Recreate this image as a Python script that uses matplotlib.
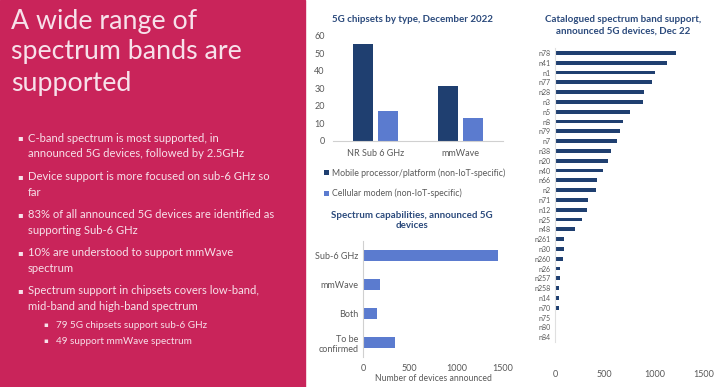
import matplotlib.pyplot as plt
from matplotlib.patches import Rectangle

W, H = 720, 387

# chipsets by type
chip_cats = ["NR Sub 6 GHz", "mmWave"]
chip_mobile = [55, 31]
chip_modem = [17, 13]
chip_labels = ["Mobile processor/platform (non-IoT-specific)", "Cellular modem (non-IoT-specific)"]

# spectrum capabilities
cap_cats = ["Sub-6 GHz", "mmWave", "Both", "To be\nconfirmed"]
cap_vals = [1450, 185, 150, 340]

# band support
bands = ["n78", "n41", "n1", "n77", "n28", "n3", "n5", "n8", "n79", "n7",
         "n38", "n20", "n40", "n66", "n2", "n71", "n12", "n25", "n48", "n261",
         "n30", "n260", "n26", "n257", "n258", "n14", "n70", "n75", "n80", "n84"]
band_vals = [1220, 1130, 1010, 975, 900, 885, 755, 680, 655, 625,
             560, 530, 480, 420, 415, 335, 320, 275, 205, 90,
             90, 85, 55, 50, 45, 45, 37, 15, 8, 8]

title_lines = ["A wide range of", "spectrum bands are", "supported"]
bullets = [
    ["C-band spectrum is most supported, in", "announced 5G devices, followed by 2.5GHz"],
    ["Device support is more focused on sub-6 GHz so", "far"],
    ["83% of all announced 5G devices are identified as", "supporting Sub-6 GHz"],
    ["10% are understood to support mmWave", "spectrum"],
    ["Spectrum support in chipsets covers low-band,", "mid-band and high-band spectrum"],
]
sub_bullets = ["79 5G chipsets support sub-6 GHz", "49 support mmWave spectrum"]

PINK = "#C9245A"
TXT = "#F7E1EA"
NAVY = "#1F3F70"
LIGHT = "#5B7BCF"
TITLE_C = "#2B4A7C"
GREY = "#595959"

plt.rcParams['font.family'] = ['Lato', 'DejaVu Sans']


def box(x0, y0, x1, y1):
    return [x0 / W, 1 - y1 / H, (x1 - x0) / W, (y1 - y0) / H]


def fx(x):
    return x / W


def fy(y):
    return 1 - y / H


fig = plt.figure(figsize=(W / 100, H / 100), dpi=100)
fig.patches.append(Rectangle((0, 0), fx(305), 1, transform=fig.transFigure,
                             color=PINK, zorder=0))

# left text
for i, line in enumerate(title_lines):
    fig.text(fx(11), fy(21 + 31 * i), line, color=TXT, fontsize=19.3,
             va='center', ha='left')

ys = [138, 177, 215, 253, 291]
for y0, lines in zip(ys, bullets):
    fig.text(fx(17), fy(y0), "\u25aa", color=TXT, fontsize=6, va='center',
             family='DejaVu Sans')
    for j, ln in enumerate(lines):
        fig.text(fx(28), fy(y0 + 15.5 * j), ln, color=TXT, fontsize=8.1, va='center')
for j, ln in enumerate(sub_bullets):
    y0 = 325 + 16 * j
    fig.text(fx(43), fy(y0), "\u25aa", color=TXT, fontsize=5, va='center',
             family='DejaVu Sans')
    fig.text(fx(56), fy(y0), ln, color=TXT, fontsize=7.1, va='center')

# chipsets chart
ax1 = fig.add_axes(box(333, 35.7, 503, 140.7))
xs = range(len(chip_cats))
b1 = ax1.bar([x - 0.145 for x in xs], chip_mobile, width=0.235, color=NAVY)
b2 = ax1.bar([x + 0.145 for x in xs], chip_modem, width=0.235, color=LIGHT)
ax1.set_xlim(-0.5, 1.5)
ax1.set_ylim(0, 60)
ax1.set_yticks(range(0, 61, 10))
ax1.set_xticks(list(xs))
ax1.set_xticklabels(chip_cats)
for s in ["top", "right", "left"]:
    ax1.spines[s].set_visible(False)
ax1.spines["bottom"].set_color("#D0D0D0")
ax1.tick_params(length=0, labelsize=6.5, colors=GREY, pad=6)
ax1.tick_params(axis='y', pad=6)
fig.text(fx(412), fy(20), "5G chipsets by type, December 2022", color=TITLE_C,
         fontsize=7, fontweight='bold', ha='center', va='center')
fig.legend([b1, b2], chip_labels, loc='upper left',
           bbox_to_anchor=(fx(324), fy(168)), frameon=False, fontsize=6.3,
           handlelength=0.6, handleheight=0.6, handletextpad=0.35,
           labelspacing=1.3, labelcolor=GREY, borderaxespad=0, borderpad=0)

# spectrum capabilities chart
ax2 = fig.add_axes(box(363, 241, 503, 357))
ax2.barh(range(len(cap_cats)), cap_vals, height=0.35, color=LIGHT)
ax2.set_ylim(len(cap_cats) - 0.5, -0.5)
ax2.set_xlim(0, 1500)
ax2.set_xticks([0, 500, 1000, 1500])
ax2.set_yticks(range(len(cap_cats)))
ax2.set_yticklabels(cap_cats)
for s in ["top", "right", "bottom"]:
    ax2.spines[s].set_visible(False)
ax2.spines["left"].set_color("#D0D0D0")
ax2.tick_params(length=0, labelsize=6.5, colors=GREY)
ax2.tick_params(axis='x', pad=5)
ax2.set_xlabel("Number of devices announced", fontsize=6.2, color=GREY, labelpad=1)
fig.text(fx(412), fy(215), "Spectrum capabilities, announced 5G", color=TITLE_C,
         fontsize=7, fontweight='bold', ha='center', va='center')
fig.text(fx(412), fy(226), "devices", color=TITLE_C,
         fontsize=7, fontweight='bold', ha='center', va='center')

# band support chart
ax3 = fig.add_axes(box(555, 48, 704, 342))
ax3.barh(range(len(bands)), band_vals, height=0.4, color=NAVY)
ax3.set_ylim(len(bands) - 0.5, -0.5)
ax3.set_xlim(0, 1500)
ax3.set_xticks([0, 500, 1000, 1500])
ax3.set_yticks(range(len(bands)))
ax3.set_yticklabels(bands)
for s in ["top", "right", "bottom"]:
    ax3.spines[s].set_visible(False)
ax3.spines["left"].set_color("#E0E0E0")
ax3.tick_params(axis='y', length=0, labelsize=5, colors=GREY, pad=3)
ax3.tick_params(axis='x', length=0, labelsize=6.5, colors=GREY, pad=20)
fig.text(fx(623), fy(20), "Catalogued spectrum band support,", color=TITLE_C,
         fontsize=7, fontweight='bold', ha='center', va='center')
fig.text(fx(623), fy(31), "announced 5G devices, Dec 22", color=TITLE_C,
         fontsize=7, fontweight='bold', ha='center', va='center')

fig.savefig("out.png", dpi=100)
